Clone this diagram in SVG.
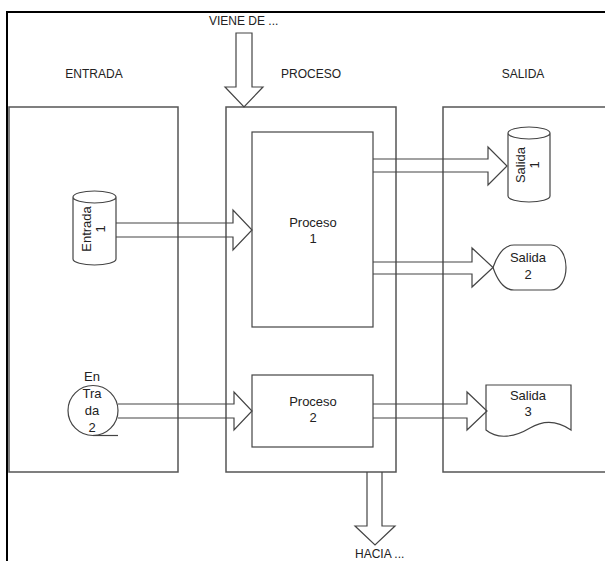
<svg xmlns="http://www.w3.org/2000/svg" width="605" height="561" viewBox="0 0 605 561">
<style>
.pn{fill:#fff;stroke:#555;stroke-width:1.5}
.sh{fill:#fff;stroke:#444;stroke-width:1.2}
.ar{fill:none;stroke:#444;stroke-width:1.2;stroke-linejoin:miter}
.t{font-family:"Liberation Sans",Arial,sans-serif;font-size:12px;fill:#222}
.n{font-size:13px}
.c{text-anchor:middle}
</style>
<rect width="605" height="561" fill="#fff"/>
<path d="M7,561 V12 H605" fill="none" stroke="#000" stroke-width="2"/>
<g id="panel-entrada"><rect class="pn" x="9" y="107" width="169" height="365"/><text class="t c" x="94" y="78">ENTRADA</text></g>
<g id="panel-proceso"><rect class="pn" x="226" y="107" width="170" height="365"/><text class="t c" x="311" y="78">PROCESO</text></g>
<g id="panel-salida"><rect class="pn" x="443" y="107" width="170" height="365"/><text class="t c" x="523" y="78">SALIDA</text></g>
<g id="proceso1"><rect class="sh" x="252" y="132" width="121" height="195"/><text class="t n c" x="313" y="227">Proceso</text><text class="t n c" x="313" y="243">1</text></g>
<g id="proceso2"><rect class="sh" x="252" y="375" width="121" height="72"/><text class="t n c" x="313" y="406">Proceso</text><text class="t n c" x="313" y="422">2</text></g>
<g id="entrada1"><path class="sh" d="M73,197 A21.5,6 0 0 1 116,197 V259 A21.5,6 0 0 1 73,259 Z M73,197 A21.5,6 0 0 0 116,197"/><text class="t n c" transform="translate(94.5,229) rotate(-90)"><tspan x="0" y="-4">Entrada</tspan><tspan x="0" y="10">1</tspan></text></g>
<g id="entrada2"><circle class="sh" cx="93" cy="410.5" r="25"/><line x1="93" y1="435.5" x2="118" y2="435.5" stroke="#444" stroke-width="1.2"/><text class="t n c" x="92" y="381">En</text><text class="t n c" x="92" y="398">Tra</text><text class="t n c" x="92" y="415">da</text><text class="t n c" x="92" y="432">2</text></g>
<g id="salida1"><path class="sh" d="M508,133 A21,6 0 0 1 550,133 V196 A21,6 0 0 1 508,196 Z M508,133 A21,6 0 0 0 550,133"/><text class="t n c" transform="translate(529,165) rotate(-90)"><tspan x="0" y="-4">Salida</tspan><tspan x="0" y="10">1</tspan></text></g>
<g id="salida2"><path class="sh" d="M493,267.5 C498,253 505,245 514,245 H551 C560,245 566,255 566,267.5 C566,280 560,290 551,290 H514 C505,290 498,282 493,267.5 Z"/><text class="t n c" x="528" y="262">Salida</text><text class="t n c" x="528" y="279">2</text></g>
<g id="salida3"><path class="sh" d="M486,385 H571 V430 C558,421 545,419 530,428 C515,437 498,440 486,430 Z"/><text class="t n c" x="528" y="400">Salida</text><text class="t n c" x="528" y="416">3</text></g>
<g id="connectors">
<path class="ar" d="M116,223 H233 V210 L252,230 L233,250 V237 H116"/>
<path class="ar" d="M118,404 H234 V392 L252,411 L234,430 V418 H118"/>
<path class="ar" d="M373,159 H488 V147 L507,166 L488,185 V172 H373"/>
<path class="ar" d="M373,262 H472 V248 L493,267.5 L472,287 V274 H373"/>
<path class="ar" d="M373,404 H467 V392 L487,411 L467,430 V418 H373"/>
<path class="ar" d="M236,33 V87 H225 L244,107 L263,87 H252 V33 Z"/>
<path class="ar" d="M367,472 V526 H355 L375,545 L395,526 H382 V472"/>
</g>
<text class="t" x="209" y="25">VIENE DE ...</text>
<text class="t" x="355" y="558">HACIA ...</text>
</svg>
